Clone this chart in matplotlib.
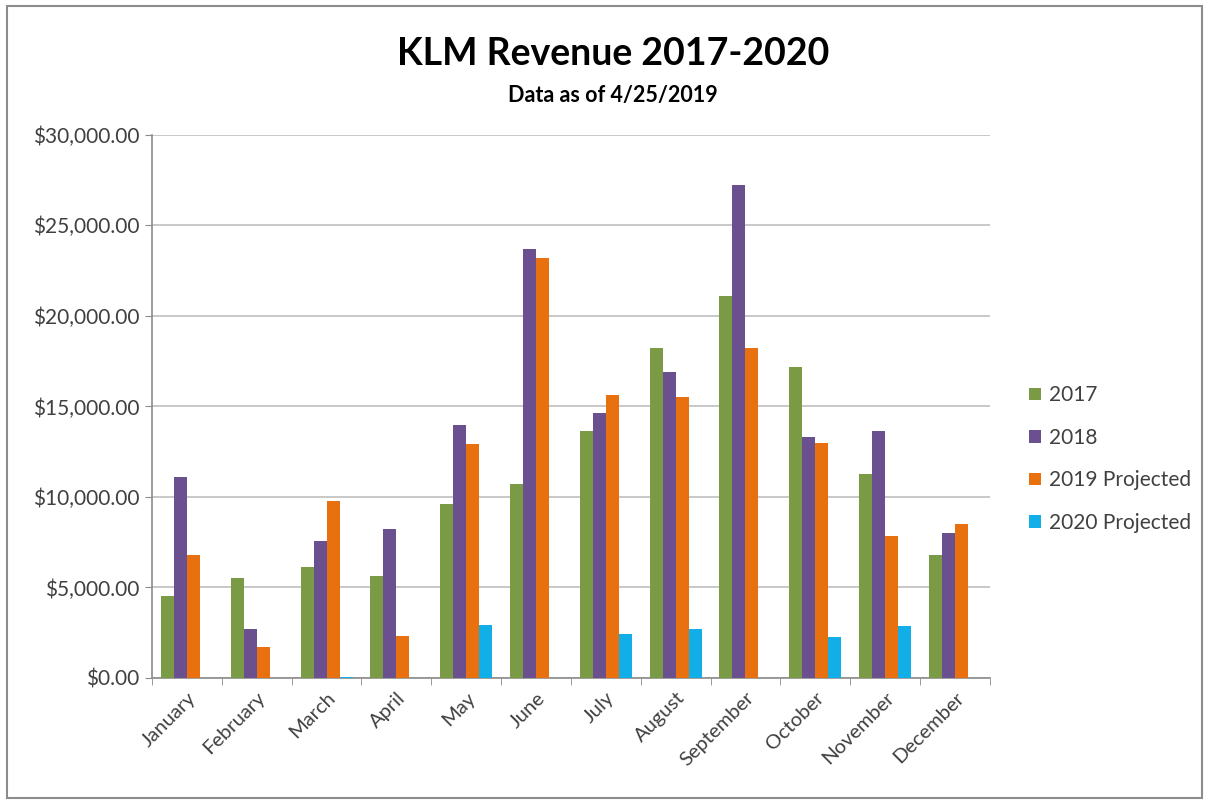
#!/usr/bin/env python
# -*- coding: utf-8 -*-

import numpy as np
import matplotlib
matplotlib.use("Agg")
import matplotlib.pyplot as plt
from matplotlib.patches import Rectangle
from matplotlib.ticker import FuncFormatter, FixedLocator

plt.rcParams['font.family'] = ['Lato', 'DejaVu Sans']

months = ["January", "February", "March", "April", "May", "June",
          "July", "August", "September", "October", "November", "December"]
series_names = ["2017", "2018", "2019 Projected", "2020 Projected"]

rev_2017 = [4550, 5550, 6150, 5650, 9600, 10700, 13650, 18200, 21100, 17150, 11250, 6800]
rev_2018 = [11100, 2700, 7550, 8250, 13950, 23700, 14650, 16900, 27200, 13300, 13650, 8000]
rev_2019p = [6800, 1700, 9750, 2300, 12950, 23200, 15650, 15500, 18250, 13000, 7850, 8500]
rev_2020p = [0, 0, 50, 0, 2950, 0, 2450, 2700, 0, 2250, 2850, 0]

colors = ["#7A9A45", "#6B5090", "#E8700E", "#12AEE8"]
text_color = "#404040"


def main():
	fig = plt.figure(figsize=(12.07, 8.0), dpi=100)
	ax = fig.add_axes([0.126, 0.1525, 0.694, 0.679])

	# 外枠
	fig.patches.append(Rectangle((0.006, 0.003), 0.99, 0.99, transform=fig.transFigure,
								 fill=False, edgecolor="#8c8c8c", linewidth=1.5))

	x = np.arange(len(months))
	w = 0.186
	data = [rev_2017, rev_2018, rev_2019p, rev_2020p]
	for i, (vals, name) in enumerate(zip(data, series_names)):
		ax.bar(x + (i - 1.5) * w, vals, width=w, color=colors[i], label=name, zorder=3)

	ax.set_xlim(-0.5, 11.5)
	ax.set_ylim(0, 30000)
	ax.set_yticks(np.arange(0, 30001, 5000))
	ax.yaxis.set_major_formatter(FuncFormatter(lambda v, p: "${:,.2f}".format(v)))
	ax.grid(axis="y", color="#bfbfbf", linewidth=1.2, zorder=0)

	ax.set_xticks(x)
	ax.set_xticklabels(months, rotation=45, ha="right", rotation_mode="anchor", fontsize=14.5)
	ax.tick_params(axis="x", length=0, pad=8, labelcolor=text_color)
	ax.xaxis.set_minor_locator(FixedLocator(np.arange(-0.5, 12.0, 1.0)))
	ax.tick_params(axis="x", which="minor", length=5, color="#8c8c8c", direction="out")
	ax.tick_params(axis="y", length=5, color="#8c8c8c", labelsize=15, pad=4, labelcolor=text_color)

	for s in ["top", "right"]:
		ax.spines[s].set_visible(False)
	for s in ["left", "bottom"]:
		ax.spines[s].set_color("#8c8c8c")
		ax.spines[s].set_linewidth(1.2)

	fig.text(0.508, 0.933, "KLM Revenue 2017-2020", ha="center", va="center",
			 fontsize=27, fontweight="bold", color="black")
	fig.text(0.508, 0.881, "Data as of 4/25/2019", ha="center", va="center",
			 fontsize=15.5, fontweight="bold", color="black")

	ax.legend(loc="center left", bbox_to_anchor=(1.025, 0.403), frameon=False,
			  fontsize=15, handlelength=0.55, handleheight=0.55, handletextpad=0.4,
			  labelspacing=1.08, labelcolor=text_color)

	fig.savefig("out.png", dpi=100)


if __name__ == '__main__':
	main()
